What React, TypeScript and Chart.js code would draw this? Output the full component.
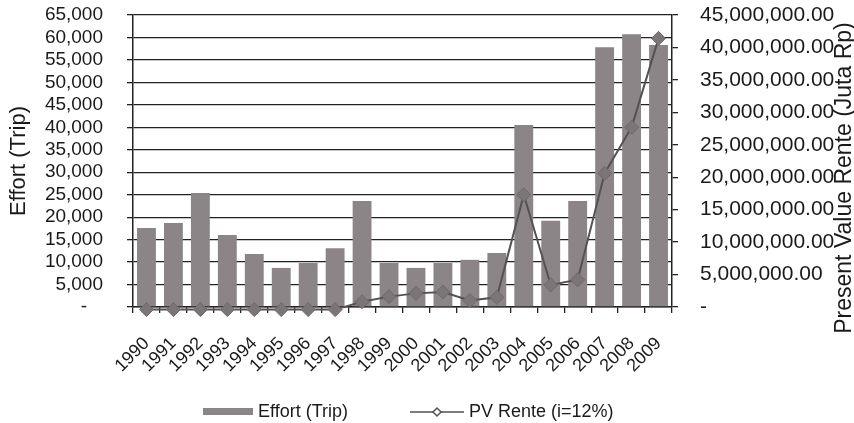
import React, { useEffect, useRef } from 'react';
import { Chart, registerables } from 'chart.js';

Chart.register(...registerables);

const years = ['1990', '1991', '1992', '1993', '1994', '1995', '1996', '1997', '1998', '1999', '2000', '2001', '2002', '2003', '2004', '2005', '2006', '2007', '2008', '2009'];
const effortTrip = [17600, 18700, 25400, 16000, 11800, 8700, 9800, 13100, 23600, 9800, 8700, 9800, 10500, 12000, 40500, 19200, 23600, 57800, 60700, 58300];
const pvRente = [-400000, -400000, -400000, -400000, -400000, -400000, -400000, -400000, 800000, 1600000, 2100000, 2300000, 1000000, 1500000, 17300000, 3400000, 4200000, 20600000, 27700000, 41400000];
const effortTicks = [0, 5000, 10000, 15000, 20000, 25000, 30000, 35000, 40000, 45000, 50000, 55000, 60000, 65000];
const renteTicks = [0, 5000000, 10000000, 15000000, 20000000, 25000000, 30000000, 35000000, 40000000, 45000000];
const effortLabel = 'Effort (Trip)';
const renteLabel = 'PV Rente (i=12%)';
const leftTitle = 'Effort (Trip)';
const rightTitle = 'Present Value Rente (Juta Rp)';

const FONT = "'Liberation Sans', Arial, sans-serif";
const BAR_COLOR = '#8b8588';
const LINE_COLOR = '#555152';
const AXIS_COLOR = '#222222';
const TEXT_COLOR = '#1a1a1a';

function drawDiamond(ctx: CanvasRenderingContext2D, x: number, y: number, r: number) {
  ctx.beginPath();
  ctx.moveTo(x, y - r);
  ctx.lineTo(x + r, y);
  ctx.lineTo(x, y + r);
  ctx.lineTo(x - r, y);
  ctx.closePath();
}

const extrasPlugin = {
  id: 'extras',
  afterDraw(chart: any) {
    const ctx = chart.ctx as CanvasRenderingContext2D;
    const area = chart.chartArea;
    ctx.save();
    // right axis title
    ctx.font = `23px ${FONT}`;
    ctx.fillStyle = TEXT_COLOR;
    ctx.textAlign = 'center';
    ctx.textBaseline = 'middle';
    ctx.translate(chart.width - 9, (area.top + area.bottom) / 2 + 17);
    ctx.rotate(-Math.PI / 2);
    ctx.fillText(rightTitle, 0, 0);
    ctx.restore();

    // legend
    ctx.save();
    ctx.font = `18px ${FONT}`;
    ctx.textBaseline = 'middle';
    ctx.textAlign = 'left';
    const ly = chart.height - 11;
    let x = area.left + 70;
    ctx.fillStyle = BAR_COLOR;
    ctx.fillRect(x, ly - 4, 50, 7);
    x += 55;
    ctx.fillStyle = TEXT_COLOR;
    ctx.fillText(effortLabel, x, ly);
    x += ctx.measureText(effortLabel).width + 62;
    ctx.strokeStyle = LINE_COLOR;
    ctx.lineWidth = 1.5;
    ctx.beginPath();
    ctx.moveTo(x, ly);
    ctx.lineTo(x + 54, ly);
    ctx.stroke();
    drawDiamond(ctx, x + 27, ly, 4);
    ctx.fillStyle = '#ffffff';
    ctx.fill();
    ctx.stroke();
    x += 59;
    ctx.fillStyle = TEXT_COLOR;
    ctx.fillText(renteLabel, x, ly);
    ctx.restore();
  },
};

export default function App() {
  const canvasRef = useRef<HTMLCanvasElement | null>(null);

  useEffect(() => {
    document.body.style.margin = '0';
    const canvas = canvasRef.current;
    if (!canvas) return;
    const chart = new Chart(canvas, {
      type: 'bar',
      data: {
        labels: years,
        datasets: [
          {
            type: 'line',
            label: renteLabel,
            data: pvRente,
            yAxisID: 'y1',
            borderColor: LINE_COLOR,
            borderWidth: 2,
            backgroundColor: '#6e696b',
            pointStyle: 'rectRot',
            pointRadius: 7,
            pointBorderColor: '#6e696b',
            pointBackgroundColor: '#7a7577',
            pointBorderWidth: 1,
            tension: 0,
            clip: false,
            order: 0,
          } as any,
          {
            type: 'bar',
            label: effortLabel,
            data: effortTrip,
            yAxisID: 'y',
            backgroundColor: BAR_COLOR,
            borderWidth: 0,
            categoryPercentage: 0.7,
            barPercentage: 1,
            order: 1,
          } as any,
        ],
      },
      options: {
        responsive: true,
        maintainAspectRatio: false,
        animation: false,
        layout: { padding: { top: 15, left: 0, right: 0, bottom: 0 } },
        plugins: {
          legend: { display: false },
          tooltip: { enabled: false },
        },
        scales: {
          x: {
            offset: true,
            grid: { offset: true, drawOnChartArea: false, drawTicks: true, tickLength: 6, color: AXIS_COLOR, lineWidth: 1.3 },
            border: { color: AXIS_COLOR, width: 1.5 },
            ticks: {
              autoSkip: false,
              minRotation: 45,
              maxRotation: 45,
              padding: 20,
              color: TEXT_COLOR,
              font: { family: FONT, size: 18 },
            },
            afterFit(scale: any) {
              scale.height = 116;
            },
          },
          y: {
            position: 'left',
            min: 0,
            max: effortTicks[effortTicks.length - 1],
            afterBuildTicks(scale: any) {
              scale.ticks = effortTicks.map((v) => ({ value: v }));
            },
            ticks: {
              autoSkip: false,
              padding: 24,
              color: TEXT_COLOR,
              font: { family: FONT, size: 19, lineHeight: 1 },
              callback: (v: any) => (Number(v) === 0 ? '-   ' : Number(v).toLocaleString('en-US')),
            },
            grid: { color: AXIS_COLOR, lineWidth: 1.3, tickLength: 6 },
            border: { color: AXIS_COLOR, width: 1.5 },
            title: {
              display: true,
              text: leftTitle,
              color: TEXT_COLOR,
              font: { family: FONT, size: 22 },
              padding: { top: 6, bottom: 0 },
            },
            afterFit(scale: any) {
              scale.width = 133;
              scale.paddingTop = 8;
              scale.paddingBottom = 8;
            },
          },
          y1: {
            position: 'right',
            min: 0,
            max: renteTicks[renteTicks.length - 1],
            afterBuildTicks(scale: any) {
              scale.ticks = renteTicks.map((v) => ({ value: v }));
            },
            ticks: {
              autoSkip: false,
              padding: 22,
              color: TEXT_COLOR,
              font: { family: FONT, size: 21, lineHeight: 1 },
              callback: (v: any) =>
                Number(v) === 0
                  ? '-'
                  : Number(v).toLocaleString('en-US', { minimumFractionDigits: 2, maximumFractionDigits: 2 }),
            },
            grid: { drawOnChartArea: false, color: AXIS_COLOR, lineWidth: 1.3, tickLength: 6 },
            border: { color: AXIS_COLOR, width: 1.5 },
            afterFit(scale: any) {
              scale.width = 182;
              scale.paddingTop = 8;
              scale.paddingBottom = 8;
            },
          },
        },
      },
      plugins: [extrasPlugin],
    });
    return () => chart.destroy();
  }, []);

  return (
    <div style={{ position: 'fixed', left: 0, top: 0, width: '854px', height: '423px', background: '#ffffff' }}>
      <canvas ref={canvasRef} />
    </div>
  );
}
